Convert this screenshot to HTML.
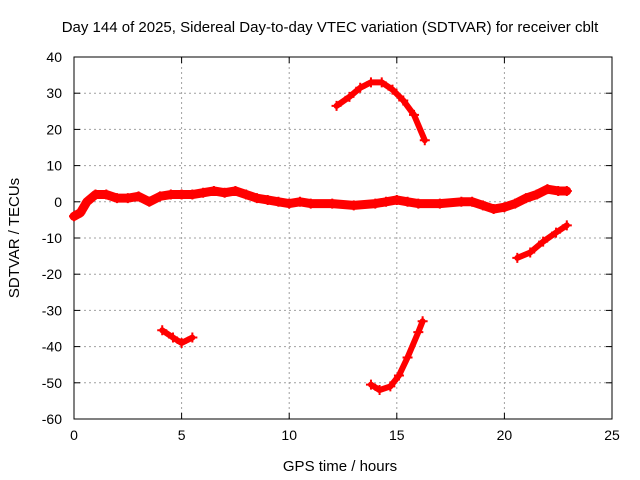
<!DOCTYPE html>
<html><head><meta charset="utf-8"><style>
body{margin:0;background:#fff;}
svg{display:block;font-family:"Liberation Sans",sans-serif;}
</style></head><body>
<svg id="chart" width="640" height="480">
<text x="330" y="32" text-anchor="middle" font-size="15">Day 144 of 2025, Sidereal Day-to-day VTEC variation (SDTVAR) for receiver cblt</text>
<g id="grid"></g>
<g id="axes"></g>
<g id="series"></g>
<text x="340" y="471" text-anchor="middle" font-size="15">GPS time / hours</text>
<text x="19" y="238" text-anchor="middle" font-size="15" transform="rotate(-90 19 238)">SDTVAR / TECUs</text>
</svg>
<script>
const xTicks=[0,5,10,15,20,25];
const yTicks=[40,30,20,10,0,-10,-20,-30,-40,-50,-60];
const segMain=[[0,-4],[0.3,-3],[0.6,0],[1,2],[1.5,2],[2,1],[2.5,1],[3,1.5],[3.5,0],[4,1.5],[4.5,2],[5,2],[5.5,2],[6,2.5],[6.5,3],[7,2.5],[7.5,3],[8,2],[8.5,1],[9,0.5],[9.5,0],[10,-0.5],[10.5,0],[11,-0.5],[12,-0.5],[13,-1],[14,-0.5],[14.5,0],[15,0.5],[15.5,0],[16,-0.5],[17,-0.5],[18,0],[18.5,0],[19,-1],[19.5,-2],[20,-1.5],[20.5,-0.5],[21,1],[21.5,2],[22,3.5],[22.5,3],[22.9,3]];
const segArc=[[12.2,26.5],[12.8,29],[13.3,31.5],[13.8,33],[14.3,33],[14.8,31],[15.3,28],[15.8,24],[16.3,17]];
const segLate=[[20.6,-15.5],[21.2,-14],[21.8,-11],[22.4,-8.5],[22.9,-6.5]];
const segEarlyLow=[[4.1,-35.5],[4.6,-37.5],[5,-39],[5.5,-37.5]];
const segLow=[[13.8,-50.5],[14.2,-52],[14.7,-51],[15.1,-48],[15.5,-43],[16,-36],[16.2,-33]];
const L=74,R=612,T=57,B=419;
const xs=v=>L+(v-0)/25*(R-L);
const ys=v=>B-(v+60)/100*(B-T);
const NS="http://www.w3.org/2000/svg";
function mk(tag,attrs,parent){const e=document.createElementNS(NS,tag);for(const k in attrs)e.setAttribute(k,attrs[k]);parent.appendChild(e);return e;}
const grid=document.getElementById('grid'),axes=document.getElementById('axes'),ser=document.getElementById('series');
xTicks.forEach(t=>{
 const x=xs(t);
 if(t>0&&t<25){const g=mk('line',{x1:x,x2:x,y1:T,y2:B,stroke:'#a0a0a0','stroke-dasharray':'2,3'},grid);
 
 }
 mk('line',{x1:x,x2:x,y1:B,y2:B-6,stroke:'#000'},axes);
 mk('line',{x1:x,x2:x,y1:T,y2:T+6,stroke:'#000'},axes);
 const tx=mk('text',{x:x,y:B+21,'text-anchor':'middle','font-size':'14'},axes);tx.textContent=t;
 
 
});
yTicks.forEach(t=>{
 const y=ys(t);
 if(t<40&&t>-60){const g=mk('line',{x1:L,x2:R,y1:y,y2:y,stroke:'#a0a0a0','stroke-dasharray':'2,3'},grid);
 
 }
 mk('line',{x1:L,x2:L+6,y1:y,y2:y,stroke:'#000'},axes);
 mk('line',{x1:R,x2:R-6,y1:y,y2:y,stroke:'#000'},axes);
 const tx=mk('text',{x:L-12,y:y+5,'text-anchor':'end','font-size':'14'},axes);tx.textContent=t;
 
 
});
const frame=mk('rect',{x:L,y:T,width:R-L,height:B-T,fill:'none',stroke:'#000'},axes);


[['main-series',segMain,9],['arc-series',segArc,6],['late-series',segLate,6],['early-low-series',segEarlyLow,6],['low-series',segLow,6]].forEach(([n,seg,w])=>{
 const pl=mk('polyline',{points:seg.map(p=>xs(p[0])+','+ys(p[1])).join(' '),fill:'none',stroke:'#f00','stroke-width':w,'stroke-linejoin':'round','stroke-linecap':'round'},ser);
 
 
 seg.forEach(p=>{const x=xs(p[0]),y=ys(p[1]);
  const m=mk('path',{d:`M${x-5},${y}H${x+5}M${x},${y-5}V${y+5}`,stroke:'#f00','stroke-width':2},ser);
  
  });
});
</script>
</body></html>
